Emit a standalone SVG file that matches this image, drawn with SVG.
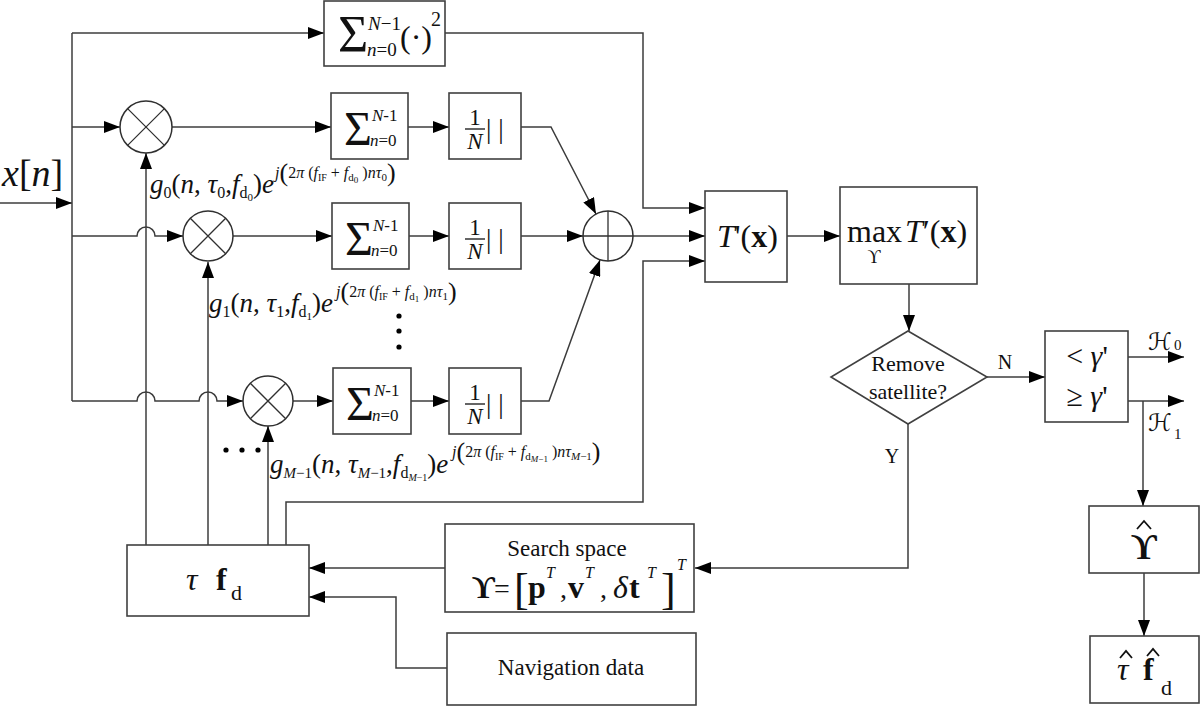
<svg xmlns="http://www.w3.org/2000/svg" width="1200" height="708" viewBox="0 0 1200 708" font-family="'Liberation Serif','Times New Roman','DejaVu Serif',serif">
<style>
.ln{stroke:#3c3c3c;stroke-width:1.5;fill:none}
.bx{fill:#fff;stroke:#404040;stroke-width:1.6}
.cx{fill:#fff;stroke:#303030;stroke-width:1.5}
.cl{stroke:#303030;stroke-width:1.3}
.hat{fill:none;stroke:#111;stroke-width:1.8;stroke-linejoin:miter}
text{font-family:"Liberation Serif","Times New Roman","DejaVu Serif",serif;fill:#111}
.i{font-style:italic}
.b{font-weight:bold}
.c{text-anchor:middle}
.scr{font-family:"DejaVu Serif","DejaVu Sans",serif;font-style:italic}
</style>
<defs>
<marker id="ah" markerUnits="userSpaceOnUse" markerWidth="16" markerHeight="12" viewBox="0 0 16 12" refX="16" refY="6" orient="auto">
<path d="M0,0 L16,6 L0,12 z" fill="#000"/>
</marker>
</defs>

<g id="connectors">
<path class="ln" d="M0,203 H72" marker-end="url(#ah)"/>
<path class="ln" d="M72,33 V401"/>
<path class="ln" d="M72,33 H324" marker-end="url(#ah)"/>
<path class="ln" d="M72,127 H120" marker-end="url(#ah)"/>
<path class="ln" d="M172,127 H331" marker-end="url(#ah)"/>
<path class="ln" d="M408,127 H449" marker-end="url(#ah)"/>
<path class="ln" d="M521,127 H551 L596,214" marker-end="url(#ah)"/>
<path class="ln" d="M72,236 H137 A9,9 0 0 1 155,236 H183" marker-end="url(#ah)"/>
<path class="ln" d="M233,236 H332" marker-end="url(#ah)"/>
<path class="ln" d="M409,236 H449" marker-end="url(#ah)"/>
<path class="ln" d="M521,236 H583" marker-end="url(#ah)"/>
<path class="ln" d="M72,401 H137 A9,9 0 0 1 155,401 H199 A9,9 0 0 1 217,401 H243" marker-end="url(#ah)"/>
<path class="ln" d="M293,401 H333" marker-end="url(#ah)"/>
<path class="ln" d="M411,401 H449" marker-end="url(#ah)"/>
<path class="ln" d="M521,401 H549 L600,260" marker-end="url(#ah)"/>
<path class="ln" d="M146,545 V153" marker-end="url(#ah)"/>
<path class="ln" d="M208,545 V262" marker-end="url(#ah)"/>
<path class="ln" d="M268,545 V426" marker-end="url(#ah)"/>
<path class="ln" d="M286,545 V502 H643 V261 H705" marker-end="url(#ah)"/>
<path class="ln" d="M445,33 H643 V208 H705" marker-end="url(#ah)"/>
<path class="ln" d="M633,236 H705" marker-end="url(#ah)"/>
<path class="ln" d="M787,236 H840" marker-end="url(#ah)"/>
<path class="ln" d="M909,284 V331" marker-end="url(#ah)"/>
<path class="ln" d="M987,377 H1045" marker-end="url(#ah)"/>
<path class="ln" d="M1128,357 H1184" marker-end="url(#ah)"/>
<path class="ln" d="M1128,401 H1184" marker-end="url(#ah)"/>
<path class="ln" d="M1143,401 V506" marker-end="url(#ah)"/>
<path class="ln" d="M1144,573 V636" marker-end="url(#ah)"/>
<path class="ln" d="M908,424 V568 H695" marker-end="url(#ah)"/>
<path class="ln" d="M445,568 H309" marker-end="url(#ah)"/>
<path class="ln" d="M447,668 H396 V597 H309" marker-end="url(#ah)"/>
</g>

<g id="input">
<text x="2" y="186" font-size="38"><tspan class="i">x</tspan>[<tspan class="i">n</tspan>]</text>
</g>

<g id="energy">
<rect class="bx" x="324" y="1" width="121" height="65"/>
<text x="338" y="52" font-size="52">Σ</text>
<text x="368" y="30" font-size="19"><tspan class="i">N</tspan>−1</text>
<text x="367" y="56" font-size="19"><tspan class="i">n</tspan>=0</text>
<text x="400" y="48" font-size="32">(·)</text>
<text x="431" y="26" font-size="20">2</text>
</g>

<g id="mult0">
<circle class="cx" cx="146" cy="127" r="26"/>
<path class="cl" d="M127.6,108.6 L164.4,145.4 M164.4,108.6 L127.6,145.4"/>
</g>
<g id="mult1">
<circle class="cx" cx="208" cy="236" r="25"/>
<path class="cl" d="M190.3,218.3 L225.7,253.7 M225.7,218.3 L190.3,253.7"/>
</g>
<g id="multM">
<circle class="cx" cx="268" cy="401" r="25"/>
<path class="cl" d="M250.3,383.3 L285.7,418.7 M285.7,383.3 L250.3,418.7"/>
</g>

<g id="sum0">
<rect class="bx" x="331" y="93" width="77" height="66"/>
<text x="344" y="145" font-size="48">Σ</text>
<text x="372" y="121" font-size="17"><tspan class="i">N</tspan>-1</text>
<text x="370" y="146" font-size="17"><tspan class="i">n</tspan>=0</text>
</g>
<g id="abs0">
<rect class="bx" x="449" y="93" width="72" height="66"/>
<text x="475" y="125" font-size="23" class="c">1</text>
<line x1="465" y1="129" x2="485" y2="129" stroke="#111" stroke-width="1.3"/>
<text x="475" y="149" font-size="23" class="c i">N</text>
<text x="486" y="138" font-size="27">| |</text>
</g>

<g id="sum1">
<rect class="bx" x="332" y="203" width="77" height="66"/>
<text x="345" y="255" font-size="48">Σ</text>
<text x="373" y="231" font-size="17"><tspan class="i">N</tspan>-1</text>
<text x="371" y="256" font-size="17"><tspan class="i">n</tspan>=0</text>
</g>
<g id="abs1">
<rect class="bx" x="449" y="203" width="72" height="66"/>
<text x="475" y="235" font-size="23" class="c">1</text>
<line x1="465" y1="239" x2="485" y2="239" stroke="#111" stroke-width="1.3"/>
<text x="475" y="259" font-size="23" class="c i">N</text>
<text x="486" y="248" font-size="27">| |</text>
</g>

<g id="sumM">
<rect class="bx" x="333" y="368" width="78" height="66"/>
<text x="346" y="420" font-size="48">Σ</text>
<text x="374" y="396" font-size="17"><tspan class="i">N</tspan>-1</text>
<text x="372" y="421" font-size="17"><tspan class="i">n</tspan>=0</text>
</g>
<g id="absM">
<rect class="bx" x="449" y="368" width="72" height="66"/>
<text x="475" y="400" font-size="23" class="c">1</text>
<line x1="465" y1="404" x2="485" y2="404" stroke="#111" stroke-width="1.3"/>
<text x="475" y="424" font-size="23" class="c i">N</text>
<text x="486" y="413" font-size="27">| |</text>
</g>

<g id="labels">
<text x="150" y="193" font-size="27"><tspan class="i">g</tspan><tspan font-size="16" dy="5">0</tspan><tspan dy="-5">(</tspan><tspan class="i">n</tspan>, <tspan class="i">τ</tspan><tspan font-size="16" dy="5">0</tspan><tspan dy="-5">,</tspan><tspan class="i">f</tspan><tspan font-size="16" dy="5">d</tspan><tspan font-size="11" dy="3">0</tspan><tspan dy="-8">)</tspan><tspan class="i">e</tspan></text>
<text x="275" y="178" font-size="16"><tspan class="i">j</tspan><tspan font-size="26" dy="3">(</tspan><tspan dy="-3">2</tspan><tspan class="i">π</tspan> (<tspan class="i">f</tspan><tspan font-size="10" dy="3">IF</tspan><tspan dy="-3"> + </tspan><tspan class="i">f</tspan><tspan font-size="11" dy="3">d</tspan><tspan font-size="9" dy="2">0</tspan><tspan dy="-5"> )</tspan><tspan class="i">nτ</tspan><tspan font-size="11" dy="3">0</tspan><tspan font-size="26" dy="0">)</tspan></text>

<text x="209" y="312" font-size="27"><tspan class="i">g</tspan><tspan font-size="16" dy="5">1</tspan><tspan dy="-5">(</tspan><tspan class="i">n</tspan>, <tspan class="i">τ</tspan><tspan font-size="16" dy="5">1</tspan><tspan dy="-5">,</tspan><tspan class="i">f</tspan><tspan font-size="16" dy="5">d</tspan><tspan font-size="11" dy="3">1</tspan><tspan dy="-8">)</tspan><tspan class="i">e</tspan></text>
<text x="336" y="297" font-size="16"><tspan class="i">j</tspan><tspan font-size="26" dy="3">(</tspan><tspan dy="-3">2</tspan><tspan class="i">π</tspan> (<tspan class="i">f</tspan><tspan font-size="10" dy="3">IF</tspan><tspan dy="-3"> + </tspan><tspan class="i">f</tspan><tspan font-size="11" dy="3">d</tspan><tspan font-size="9" dy="2">1</tspan><tspan dy="-5"> )</tspan><tspan class="i">nτ</tspan><tspan font-size="11" dy="3">1</tspan><tspan font-size="26" dy="0">)</tspan></text>

<text x="270" y="473" font-size="27"><tspan class="i">g</tspan><tspan font-size="15" dy="5" class="i">M</tspan><tspan font-size="15">−1</tspan><tspan dy="-5">(</tspan><tspan class="i">n</tspan>, <tspan class="i">τ</tspan><tspan font-size="15" dy="5" class="i">M</tspan><tspan font-size="15">−1</tspan><tspan dy="-5">,</tspan><tspan class="i">f</tspan><tspan font-size="16" dy="5">d</tspan><tspan font-size="10" dy="3" class="i">M</tspan><tspan font-size="10">−1</tspan><tspan dy="-8">)</tspan><tspan class="i">e</tspan></text>
<text x="452" y="457" font-size="16"><tspan class="i">j</tspan><tspan font-size="26" dy="3">(</tspan><tspan dy="-3">2</tspan><tspan class="i">π</tspan> (<tspan class="i">f</tspan><tspan font-size="10" dy="3">IF</tspan><tspan dy="-3"> + </tspan><tspan class="i">f</tspan><tspan font-size="11" dy="3">d</tspan><tspan font-size="9" dy="2" class="i">M</tspan><tspan font-size="9">−1</tspan><tspan dy="-5"> )</tspan><tspan class="i">nτ</tspan><tspan font-size="11" dy="3" class="i">M</tspan><tspan font-size="11">−1</tspan><tspan font-size="26" dy="0">)</tspan></text>

<circle cx="399" cy="316" r="2.6" fill="#000"/>
<circle cx="399" cy="331" r="2.6" fill="#000"/>
<circle cx="399" cy="347" r="2.6" fill="#000"/>
<circle cx="226" cy="450" r="2.6" fill="#000"/>
<circle cx="242" cy="450" r="2.6" fill="#000"/>
<circle cx="258" cy="450" r="2.6" fill="#000"/>
</g>

<g id="adder">
<circle class="cx" cx="608" cy="236" r="25"/>
<path class="cl" d="M583,236 H633 M608,211 V261"/>
</g>

<g id="statistic">
<rect class="bx" x="705" y="191" width="82" height="91"/>
<text x="717" y="247" font-size="32"><tspan class="i">T</tspan>'(<tspan class="b">x</tspan>)</text>
</g>

<g id="maximize">
<rect class="bx" x="840" y="187" width="137" height="97"/>
<text x="847" y="242" font-size="32">max</text>
<text x="905" y="242" font-size="32"><tspan class="i">T</tspan>′(<tspan class="b">x</tspan>)</text>
<text x="874" y="263" font-size="18" class="c">ϒ</text>
</g>

<g id="decision">
<polygon class="bx" points="908,331 987,377 908,424 831,377"/>
<text x="908" y="371" font-size="22" class="c">Remove</text>
<text x="908" y="399" font-size="22" class="c">satellite?</text>
<text x="1005" y="369" font-size="20" class="c">N</text>
<text x="892" y="463" font-size="20" class="c">Y</text>
</g>

<g id="threshold">
<rect class="bx" x="1045" y="331" width="83" height="91"/>
<text x="1087" y="366" font-size="30" class="c">&lt; <tspan class="i">γ</tspan>'</text>
<text x="1087" y="406" font-size="30" class="c">≥ <tspan class="i">γ</tspan>'</text>
<text x="1148" y="350" font-size="24" class="scr">ℋ</text>
<text x="1174" y="350" font-size="15">0</text>
<text x="1148" y="431" font-size="24" class="scr">ℋ</text>
<text x="1174" y="439" font-size="15">1</text>
</g>

<g id="estimate">
<rect class="bx" x="1089" y="506" width="110" height="67"/>
<text x="1144" y="559" font-size="36" class="c b">ϒ</text>
<polyline class="hat" points="1137,529 1144,521 1151,529"/>
</g>

<g id="estparams">
<rect class="bx" x="1090" y="636" width="109" height="67"/>
<text x="1117" y="680" font-size="32" class="i">τ</text>
<polyline class="hat" points="1120,658 1126,651 1132,658"/>
<text x="1143" y="680" font-size="32" class="b">f</text>
<polyline class="hat" points="1147,656 1153,649 1159,656"/>
<text x="1161" y="695" font-size="22">d</text>
</g>

<g id="codegen">
<rect class="bx" x="127" y="545" width="182" height="71"/>
<text x="186" y="590" font-size="32" class="i">τ</text>
<text x="216" y="590" font-size="32" class="b">f</text>
<text x="231" y="600" font-size="22">d</text>
</g>

<g id="search">
<rect class="bx" x="445" y="524" width="249" height="88"/>
<text x="567" y="556" font-size="23" class="c">Search space</text>
<text y="598" font-size="32"><tspan x="472" class="b">ϒ</tspan><tspan x="494" font-size="28">=</tspan><tspan x="514" font-size="44" dy="6">[</tspan><tspan x="528" class="b" dy="-6">p</tspan><tspan x="546" font-size="16" class="i" dy="-20">T</tspan><tspan x="560" font-size="28" dy="20">,</tspan><tspan x="568" class="b">v</tspan><tspan x="585" font-size="16" class="i" dy="-20">T</tspan><tspan x="600" font-size="28" dy="20">,</tspan><tspan x="613" class="i">δ</tspan><tspan x="629" class="b">t</tspan><tspan x="647" font-size="16" class="i" dy="-20">T</tspan><tspan x="661" font-size="44" dy="26">]</tspan><tspan x="677" font-size="16" class="i" dy="-34">T</tspan></text>
</g>

<g id="navdata">
<rect class="bx" x="447" y="633" width="249" height="72"/>
<text x="571" y="675" font-size="23" class="c">Navigation data</text>
</g>
</svg>
